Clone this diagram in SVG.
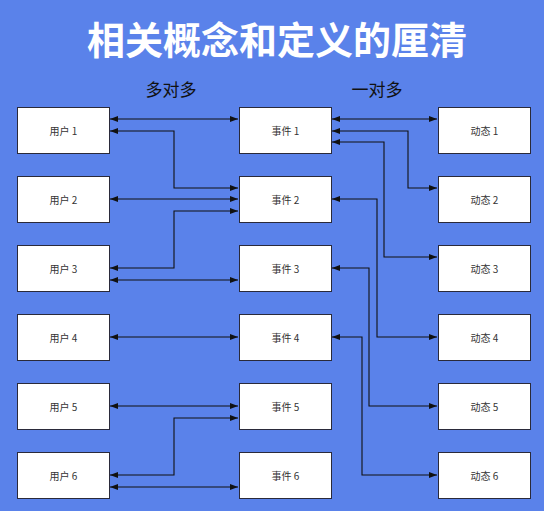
<svg xmlns="http://www.w3.org/2000/svg" width="544" height="511" viewBox="0 0 544 511">
<defs>
<marker id="ah" viewBox="0 0 8 6" refX="8" refY="3" markerWidth="8" markerHeight="6" markerUnits="userSpaceOnUse" orient="auto-start-reverse">
<path d="M0,0 L8,3 L0,6 Z" fill="#111"/>
</marker>
</defs>
<style>
.box{fill:#fff;stroke:#2a2a3a;stroke-width:1}
.lbl{font-family:"Noto Sans CJK SC","Liberation Sans",sans-serif;font-size:10px;fill:#333;text-anchor:middle;dominant-baseline:central}
.c{fill:none;stroke:#111;stroke-width:1.1;marker-start:url(#ah);marker-end:url(#ah)}
.hd{font-family:"Noto Sans CJK SC",sans-serif;font-size:17px;fill:#111;text-anchor:middle}
</style>
<rect width="544" height="511" fill="#5a82ea"/>
<text x="277" y="54" font-family="Noto Sans CJK SC, sans-serif" font-size="38" font-weight="bold" fill="#fff" text-anchor="middle">相关概念和定义的厘清</text>
<text class="hd" x="171" y="96">多对多</text>
<text class="hd" x="377" y="96">一对多</text>
<g id="connectors">
<path class="c" d="M110,119 H238"/>
<path class="c" d="M110,131 H174 V188 H238"/>
<path class="c" d="M110,199 H238"/>
<path class="c" d="M238,211 H174 V268 H110"/>
<path class="c" d="M110,280 H238"/>
<path class="c" d="M110,337 H238"/>
<path class="c" d="M110,406 H238"/>
<path class="c" d="M238,418 H174 V475 H110"/>
<path class="c" d="M110,487 H238"/>
<path class="c" d="M332,119 H437"/>
<path class="c" d="M332,131 H408 V188 H437"/>
<path class="c" d="M332,142 H384 V257 H437"/>
<path class="c" d="M332,199 H377 V337 H437"/>
<path class="c" d="M332,268 H369 V406 H437"/>
<path class="c" d="M332,337 H362 V475 H437"/>
</g>
<g id="u1"><rect class="box" x="17.5" y="107.5" width="92" height="46"/><text class="lbl" x="63.5" y="130.5">用户 1</text></g>
<g id="u2"><rect class="box" x="17.5" y="176.5" width="92" height="46"/><text class="lbl" x="63.5" y="199.5">用户 2</text></g>
<g id="u3"><rect class="box" x="17.5" y="245.5" width="92" height="46"/><text class="lbl" x="63.5" y="268.5">用户 3</text></g>
<g id="u4"><rect class="box" x="17.5" y="314.5" width="92" height="46"/><text class="lbl" x="63.5" y="337.5">用户 4</text></g>
<g id="u5"><rect class="box" x="17.5" y="383.5" width="92" height="46"/><text class="lbl" x="63.5" y="406.5">用户 5</text></g>
<g id="u6"><rect class="box" x="17.5" y="452.5" width="92" height="46"/><text class="lbl" x="63.5" y="475.5">用户 6</text></g>
<g id="e1"><rect class="box" x="239.5" y="107.5" width="92" height="46"/><text class="lbl" x="285.5" y="130.5">事件 1</text></g>
<g id="e2"><rect class="box" x="239.5" y="176.5" width="92" height="46"/><text class="lbl" x="285.5" y="199.5">事件 2</text></g>
<g id="e3"><rect class="box" x="239.5" y="245.5" width="92" height="46"/><text class="lbl" x="285.5" y="268.5">事件 3</text></g>
<g id="e4"><rect class="box" x="239.5" y="314.5" width="92" height="46"/><text class="lbl" x="285.5" y="337.5">事件 4</text></g>
<g id="e5"><rect class="box" x="239.5" y="383.5" width="92" height="46"/><text class="lbl" x="285.5" y="406.5">事件 5</text></g>
<g id="e6"><rect class="box" x="239.5" y="452.5" width="92" height="46"/><text class="lbl" x="285.5" y="475.5">事件 6</text></g>
<g id="d1"><rect class="box" x="438.5" y="107.5" width="92" height="46"/><text class="lbl" x="484.5" y="130.5">动态 1</text></g>
<g id="d2"><rect class="box" x="438.5" y="176.5" width="92" height="46"/><text class="lbl" x="484.5" y="199.5">动态 2</text></g>
<g id="d3"><rect class="box" x="438.5" y="245.5" width="92" height="46"/><text class="lbl" x="484.5" y="268.5">动态 3</text></g>
<g id="d4"><rect class="box" x="438.5" y="314.5" width="92" height="46"/><text class="lbl" x="484.5" y="337.5">动态 4</text></g>
<g id="d5"><rect class="box" x="438.5" y="383.5" width="92" height="46"/><text class="lbl" x="484.5" y="406.5">动态 5</text></g>
<g id="d6"><rect class="box" x="438.5" y="452.5" width="92" height="46"/><text class="lbl" x="484.5" y="475.5">动态 6</text></g>
</svg>
